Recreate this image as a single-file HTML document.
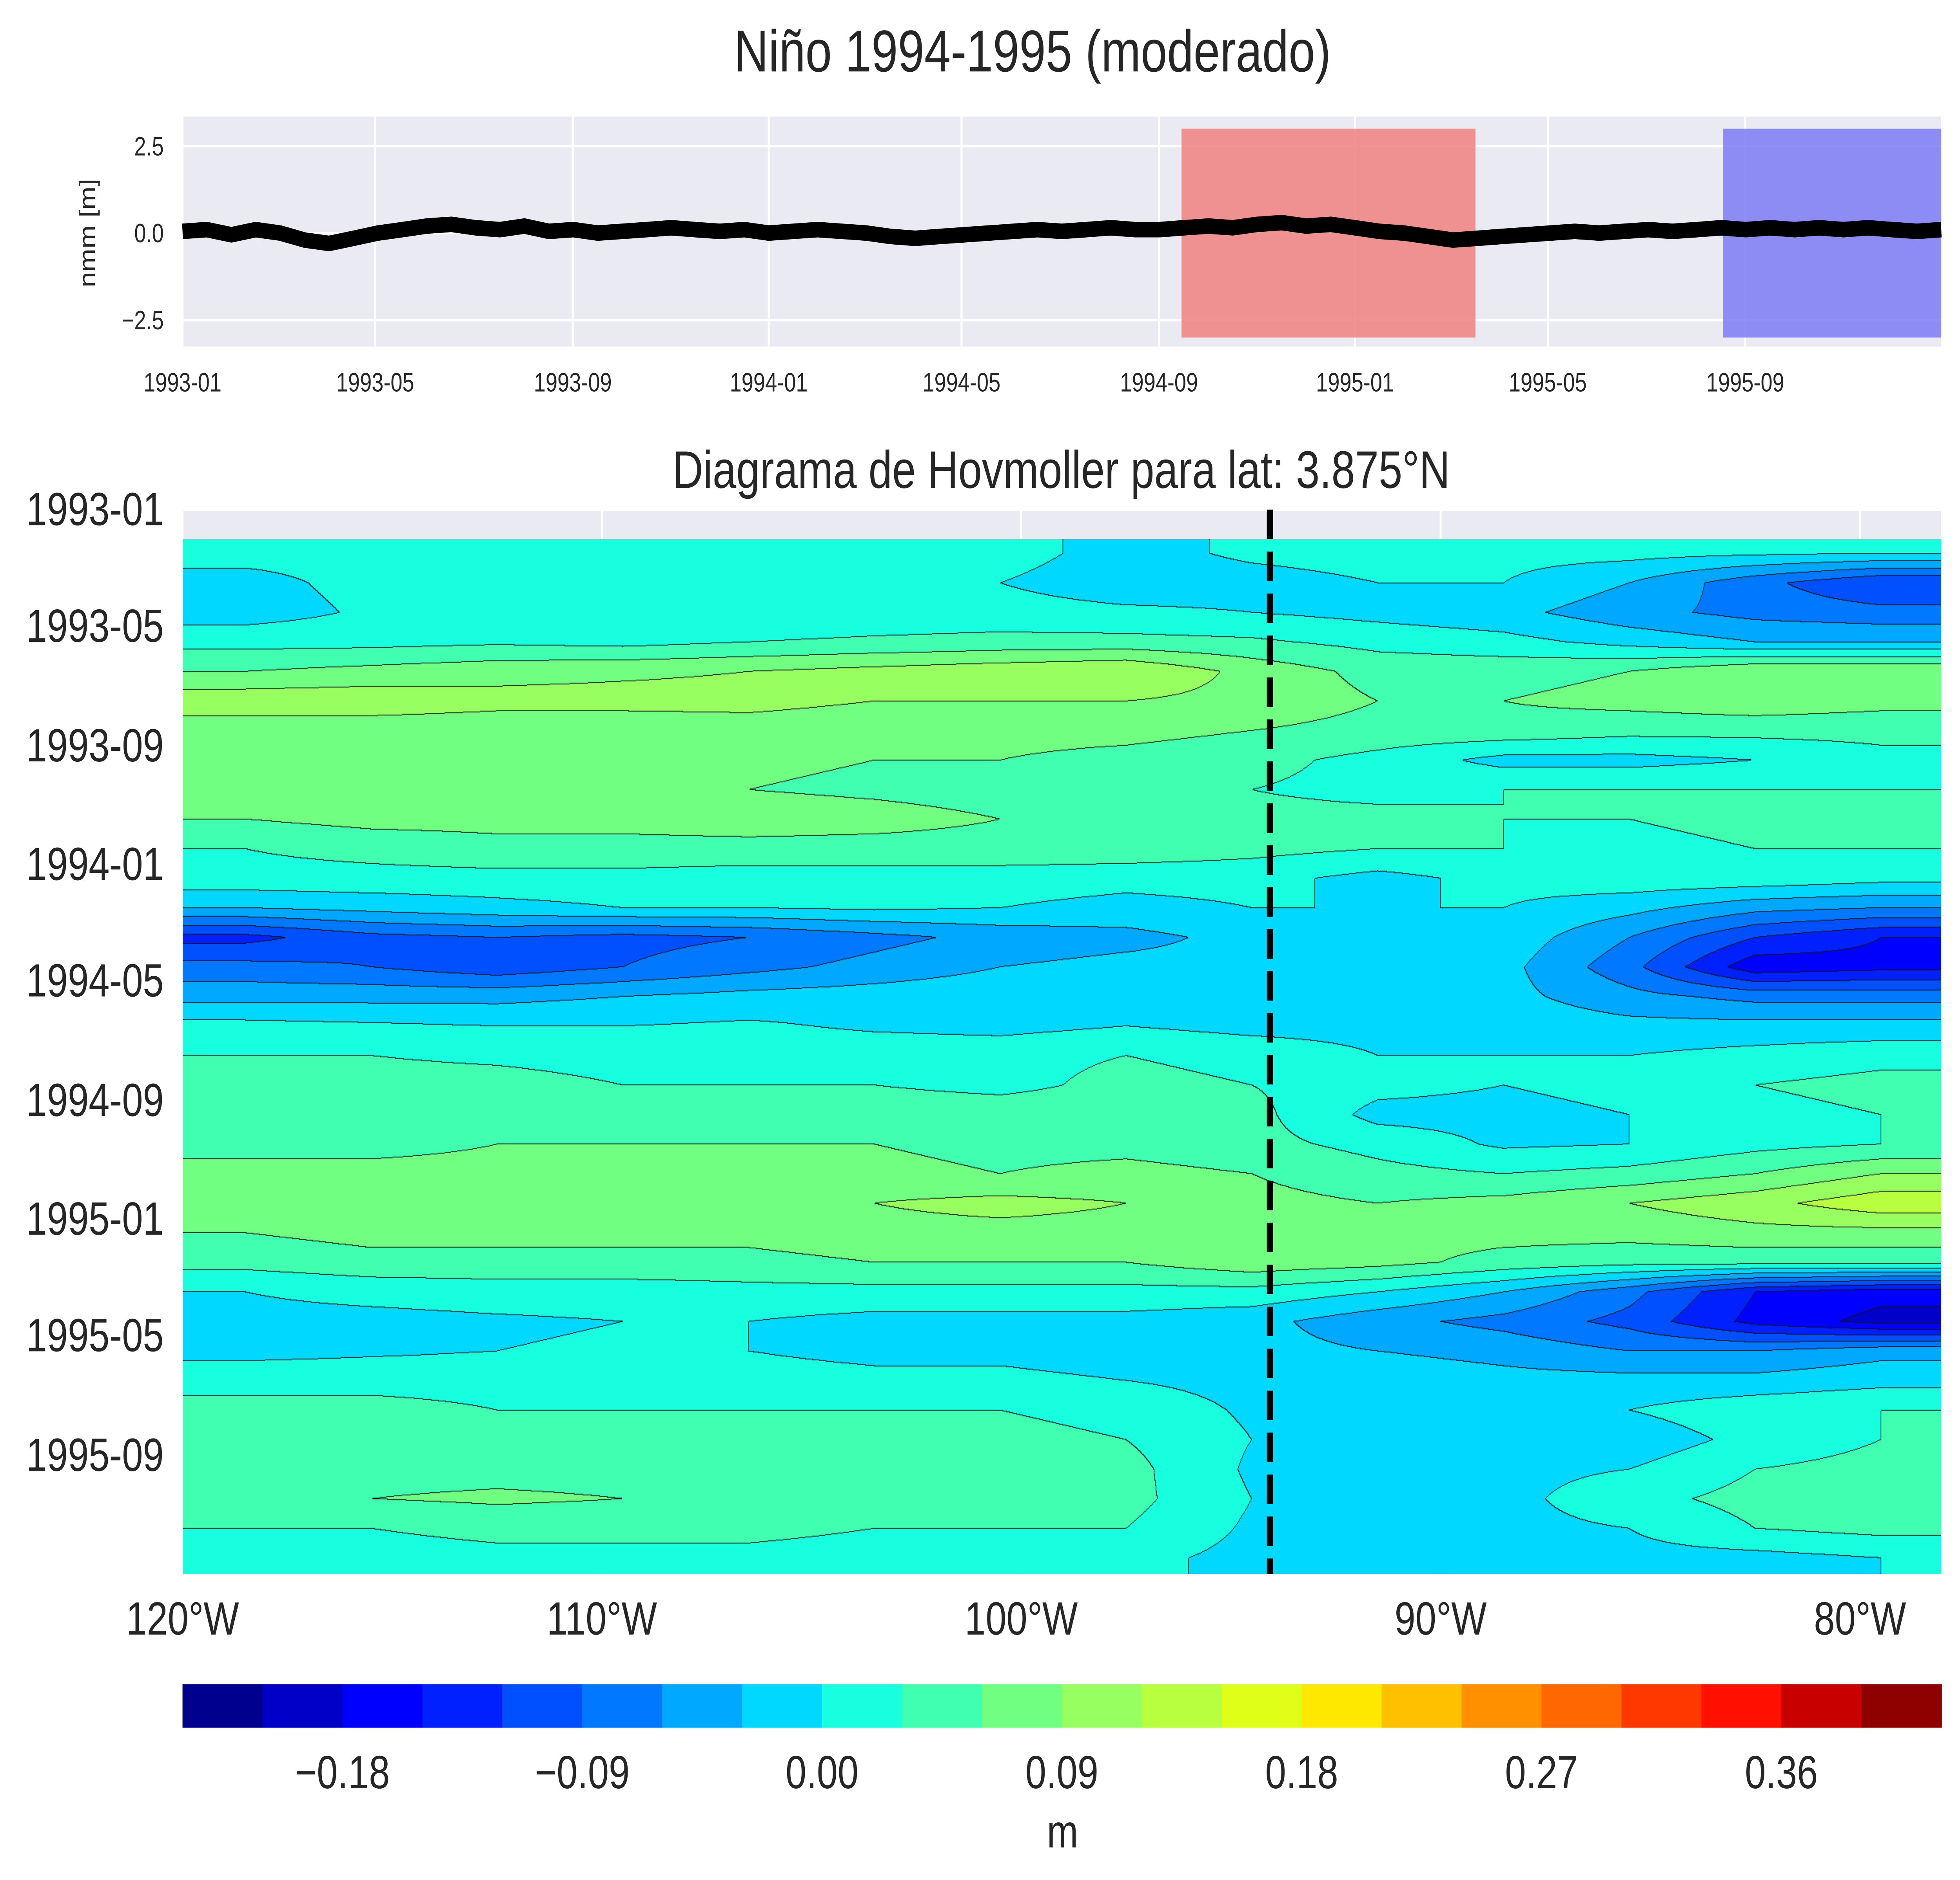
<!DOCTYPE html>
<html><head><meta charset="utf-8"><style>
html,body{margin:0;padding:0;background:#fff;width:100%;height:100%;overflow:hidden;}
#wrap{position:absolute;left:0;top:0;width:100vw;height:100vh;overflow:hidden;font-family:"Liberation Sans",sans-serif;}
svg{position:absolute;left:0;top:0;width:100%;height:100%;}
canvas{position:absolute;left:9.311%;top:28.678%;width:89.732%;height:55.041%;}
text{font-family:"Liberation Sans",sans-serif;fill:#262626;}
</style></head><body>
<div id="wrap">
<svg id="bot" viewBox="0 0 1568 1210" preserveAspectRatio="none"></svg>
<canvas id="hov" width="2814" height="1332"></canvas>
<svg id="top" viewBox="0 0 1568 1210" preserveAspectRatio="none"></svg>
</div>
<script>
// ---- data ----
const seriesValues=[0.05,0.1,-0.05,0.1,0.0,-0.2,-0.3,-0.15,0.0,0.1,0.2,0.25,0.15,0.1,0.2,0.05,0.1,0.0,0.05,0.1,0.15,0.1,0.05,0.1,0.0,0.05,0.1,0.05,0.0,-0.1,-0.15,-0.1,-0.05,0.0,0.05,0.1,0.05,0.1,0.15,0.1,0.1,0.15,0.2,0.15,0.25,0.3,0.2,0.25,0.15,0.05,0.0,-0.1,-0.2,-0.15,-0.1,-0.05,0.0,0.05,0.0,0.05,0.1,0.05,0.1,0.15,0.1,0.15,0.1,0.15,0.1,0.15,0.1,0.05,0.1];
const seriesDays=[0,1095];
const spanRed=[622,805];
const spanBlue=[959,1095];
const topYTicks=[2.5,0.0,-2.5];
const topYTickLabels=["2.5","0.0","\u22122.5"];
const dateTickDays=[0,120,243,365,485,608,730,850,973];
const dateTickLabels=["1993-01","1993-05","1993-09","1994-01","1994-05","1994-09","1995-01","1995-05","1995-09"];
const lonTicks=[-120,-110,-100,-90,-80];
const lonTickLabels=["120°W","110°W","100°W","90°W","80°W"];
const dashedLon=-94.07;
const gridLons=[-118.5,-115.5,-112.5,-109.5,-106.5,-103.5,-100.5,-97.5,-94.5,-91.5,-88.5,-85.5,-82.5,-79.5];
const gridStartDay=30;
const gridRowDays=30.4;
const gridValues=[
[0.01,0.01,0.015,0.015,0.01,0.01,0.01,-0.01,0.005,0.01,0.01,0.01,0.005,0.0],
[-0.01,0.01,0.01,0.01,0.015,0.01,0.0,-0.015,-0.01,0.0,0.0,-0.03,-0.08,-0.12],
[-0.015,0.005,0.015,0.01,0.005,0.01,0.01,0.005,0.0,-0.01,-0.02,-0.05,-0.07,-0.08],
[0.02,0.02,0.025,0.02,0.03,0.035,0.04,0.04,0.035,0.02,0.01,-0.01,-0.03,-0.03],
[0.06,0.07,0.08,0.085,0.09,0.1,0.11,0.12,0.08,0.05,0.05,0.06,0.09,0.09],
[0.11,0.11,0.1,0.1,0.1,0.09,0.09,0.09,0.08,0.06,0.06,0.07,0.08,0.07],
[0.07,0.07,0.07,0.07,0.075,0.07,0.07,0.07,0.06,0.05,0.05,0.04,0.04,0.04],
[0.06,0.06,0.06,0.06,0.065,0.06,0.06,0.05,0.04,0.02,-0.01,-0.01,0.0,0.02],
[0.06,0.06,0.06,0.07,0.06,0.055,0.05,0.05,0.03,0.02,0.03,0.03,0.03,0.03],
[0.06,0.07,0.07,0.07,0.075,0.07,0.06,0.05,0.04,0.04,0.03,0.03,0.04,0.04],
[0.03,0.04,0.05,0.05,0.05,0.05,0.05,0.05,0.04,0.03,0.03,0.02,0.03,0.03],
[0.02,0.02,0.02,0.02,0.015,0.015,0.015,0.01,0.01,-0.01,0.01,0.02,0.02,0.01],
[-0.03,-0.02,-0.01,0.0,0.0,0.005,0.0,-0.01,0.0,0.0,0.0,-0.02,-0.05,-0.06],
[-0.13,-0.1,-0.09,-0.1,-0.09,-0.07,-0.05,-0.04,-0.02,-0.01,-0.01,-0.06,-0.12,-0.15],
[-0.08,-0.09,-0.11,-0.09,-0.07,-0.05,-0.03,-0.02,-0.02,-0.015,-0.02,-0.08,-0.17,-0.16],
[-0.04,-0.04,-0.04,-0.03,-0.02,-0.015,-0.01,-0.01,-0.01,-0.015,-0.02,-0.05,-0.07,-0.07],
[0.01,0.005,0.0,0.0,0.005,-0.005,-0.01,0.0,-0.01,-0.01,-0.01,-0.02,-0.02,-0.02],
[0.03,0.03,0.025,0.02,0.02,0.02,0.02,0.03,0.02,0.0,0.0,0.0,0.01,0.02],
[0.04,0.04,0.04,0.03,0.03,0.03,0.02,0.04,0.03,0.01,0.0,0.01,0.03,0.04],
[0.06,0.05,0.05,0.06,0.05,0.05,0.05,0.05,0.04,-0.01,-0.01,0.0,0.02,0.03],
[0.05,0.05,0.06,0.06,0.06,0.06,0.05,0.05,0.04,0.02,-0.005,0.0,0.02,0.03],
[0.07,0.07,0.07,0.07,0.07,0.07,0.06,0.07,0.06,0.04,0.03,0.04,0.06,0.09],
[0.07,0.075,0.08,0.08,0.085,0.09,0.1,0.09,0.07,0.06,0.07,0.09,0.11,0.14],
[0.06,0.07,0.07,0.07,0.07,0.08,0.08,0.08,0.08,0.07,0.07,0.07,0.08,0.08],
[0.04,0.05,0.05,0.05,0.05,0.06,0.06,0.06,0.08,0.07,0.05,0.04,0.04,0.04],
[0.0,0.01,0.015,0.015,0.02,0.02,0.02,0.02,0.02,0.0,-0.03,-0.08,-0.15,-0.17],
[-0.01,-0.01,-0.005,0.0,0.0,-0.01,-0.01,-0.01,-0.02,-0.05,-0.07,-0.1,-0.16,-0.19],
[-0.01,-0.005,0.0,0.005,0.0,-0.01,-0.01,-0.02,-0.02,-0.03,-0.04,-0.06,-0.06,-0.04],
[0.02,0.02,0.02,0.02,0.015,0.01,0.01,0.0,-0.01,-0.01,-0.02,-0.02,-0.02,-0.01],
[0.04,0.04,0.03,0.03,0.03,0.03,0.03,0.02,-0.005,-0.01,-0.01,0.0,0.02,0.03],
[0.04,0.04,0.04,0.04,0.045,0.04,0.04,0.03,0.0,-0.01,-0.02,-0.02,0.01,0.03],
[0.05,0.05,0.05,0.05,0.05,0.05,0.04,0.04,-0.005,-0.01,-0.01,0.0,0.03,0.04],
[0.05,0.06,0.065,0.06,0.06,0.06,0.05,0.04,0.0,-0.01,-0.01,0.02,0.04,0.05],
[0.03,0.03,0.04,0.04,0.04,0.03,0.03,0.03,-0.005,-0.01,-0.01,0.0,0.03,0.04],
[0.01,0.015,0.02,0.02,0.02,0.015,0.01,0.01,-0.01,-0.01,-0.01,-0.01,-0.01,0.0]];
const levelMin=-0.24, levelStep=0.03;
const cbTicks=[-0.18,-0.09,0.0,0.09,0.18,0.27,0.36];
const cbTickLabels=["\u22120.18","\u22120.09","0.00","0.09","0.18","0.27","0.36"];
const binColors=["#00008f","#0000c8","#0000ff","#0020ff","#0050ff","#0078ff","#00a8ff","#00d8ff","#18ffe0","#40ffb0","#70ff80","#98ff60","#b8ff40","#e0ff18","#ffe800","#ffc000","#ff9000","#ff6800","#ff3800","#ff1000","#c80000","#8f0000"];

// ---- axes ----
const NS="http://www.w3.org/2000/svg";
const bot=document.getElementById('bot'), topS=document.getElementById('top');
function mk(p,tag,at,txt){const e=document.createElementNS(NS,tag);for(const k in at)e.setAttribute(k,at[k]);if(txt!==undefined)e.textContent=txt;p.appendChild(e);return e;}
const tX=d=>146+d*(1407/1095);
const tY=v=>150-v*22.4;
const hY=d=>328+d*(685/1095);
const hX=lon=>146+(lon+120)*33.55;
const cbX=v=>146+(v-levelMin)/levelStep*(1407/22);

let e;
e=mk(bot,'text',{x:826,y:46,'text-anchor':'middle','font-size':38});e.textContent='Niño 1994-1995 (moderado)';

e=mk(bot,'rect',{x:146,y:75,width:1407,height:148,fill:'#eaeaf2'});

dateTickDays.forEach((d,i)=>{
 mk(bot,'line',{x1:tX(d),x2:tX(d),y1:75,y2:223,stroke:'#fff','stroke-width':1.6});
 e=mk(bot,'text',{x:tX(d),y:252,'text-anchor':'middle','font-size':17},dateTickLabels[i]);
 
});
topYTicks.forEach((v,i)=>{
 mk(bot,'line',{x1:146,x2:1553,y1:tY(v),y2:tY(v),stroke:'#fff','stroke-width':1.6});
 e=mk(bot,'text',{x:131,y:tY(v)+6,'text-anchor':'end','font-size':17},topYTickLabels[i]);
 
});
e=mk(bot,'text',{x:76,y:150,'text-anchor':'middle','font-size':18,transform:'rotate(-90 76 150)'},'nmm [m]');

e=mk(bot,'rect',{x:tX(spanRed[0]),y:tY(3),width:tX(spanRed[1])-tX(spanRed[0]),height:tY(-3)-tY(3),fill:'#f08080',opacity:0.85});

e=mk(bot,'rect',{x:tX(spanBlue[0]),y:tY(3),width:tX(spanBlue[1])-tX(spanBlue[0]),height:tY(-3)-tY(3),fill:'#7b7bf5',opacity:0.85});

const n=seriesValues.length;
const pts=seriesValues.map((v,i)=>tX(seriesDays[0]+i*(seriesDays[1]-seriesDays[0])/(n-1)).toFixed(1)+','+tY(v).toFixed(1)).join(' ');
e=mk(bot,'polyline',{points:pts,fill:'none',stroke:'#000','stroke-width':10,'stroke-linejoin':'round'});


e=mk(bot,'text',{x:849,y:314,'text-anchor':'middle','font-size':34},'Diagrama de Hovmoller para lat: 3.875°N');

e=mk(bot,'rect',{x:146,y:328,width:1407,height:685,fill:'#eaeaf2'});

lonTicks.forEach((l,i)=>{
 mk(bot,'line',{x1:hX(l),x2:hX(l),y1:328,y2:1013,stroke:'#fff','stroke-width':1.6});
 e=mk(bot,'text',{x:hX(l),y:1052,'text-anchor':'middle','font-size':30},lonTickLabels[i]);
 
});
dateTickDays.forEach((d,i)=>{
 mk(bot,'line',{x1:146,x2:1553,y1:hY(d),y2:hY(d),stroke:'#fff','stroke-width':1.6});
 e=mk(bot,'text',{x:131,y:hY(d)+10,'text-anchor':'end','font-size':30},dateTickLabels[i]);
 
});
e=mk(topS,'line',{x1:hX(dashedLon),x2:hX(dashedLon),y1:328,y2:1013,stroke:'#000','stroke-width':5,'stroke-dasharray':'19,8'});


binColors.forEach((c,i)=>{
 const v0=levelMin+i*levelStep;
 e=mk(bot,'rect',{x:cbX(v0),y:1084,width:cbX(v0+levelStep)-cbX(v0)+0.5,height:28,fill:c});
 
});
cbTicks.forEach((v,i)=>{
 e=mk(bot,'text',{x:cbX(v),y:1151,'text-anchor':'middle','font-size':30},cbTickLabels[i]);
 
});
e=mk(bot,'text',{x:850,y:1189,'text-anchor':'middle','font-size':30},'m');


// heatmap raster
const cv=document.getElementById('hov'),ctx=cv.getContext('2d');
const W=cv.width,H=cv.height,img=ctx.createImageData(W,H);
const rgb=binColors.map(h=>[parseInt(h.slice(1,3),16),parseInt(h.slice(3,5),16),parseInt(h.slice(5,7),16)]);
const R=gridValues.length,C=gridLons.length;
const binAt=new Int16Array(W*H);
for(let py=0;py<H;py++){
 const yy=347+(py+0.5)*666/H;
 const day=(yy-328)/(685/1095);
 let fr=(day-gridStartDay)/gridRowDays-0.5; fr=Math.max(0,Math.min(R-1,fr));
 const r0=Math.floor(fr),r1=Math.min(R-1,r0+1),tr=fr-r0;
 for(let px=0;px<W;px++){
  const xx=146+(px+0.5)*1407/W;
  const lon=(xx-146)/33.55-120;
  let fc=(lon-gridLons[0])/(gridLons[1]-gridLons[0]); fc=Math.max(0,Math.min(C-1,fc));
  const c0=Math.floor(fc),c1=Math.min(C-1,c0+1),tc=fc-c0;
  const v=(gridValues[r0][c0]*(1-tc)+gridValues[r0][c1]*tc)*(1-tr)+(gridValues[r1][c0]*(1-tc)+gridValues[r1][c1]*tc)*tr;
  let b=Math.floor((v-levelMin)/levelStep); b=Math.max(0,Math.min(21,b));
  binAt[py*W+px]=b;
 }
}
for(let py=0;py<H;py++)for(let px=0;px<W;px++){
 const i=py*W+px,b=binAt[i];
 const edge=(px<W-1&&binAt[i+1]!==b)||(py<H-1&&binAt[i+W]!==b);
 const c=edge?[20,20,20]:rgb[b];
 img.data[i*4]=c[0];img.data[i*4+1]=c[1];img.data[i*4+2]=c[2];img.data[i*4+3]=255;
}
ctx.putImageData(img,0,0);
</script>
</body></html>
